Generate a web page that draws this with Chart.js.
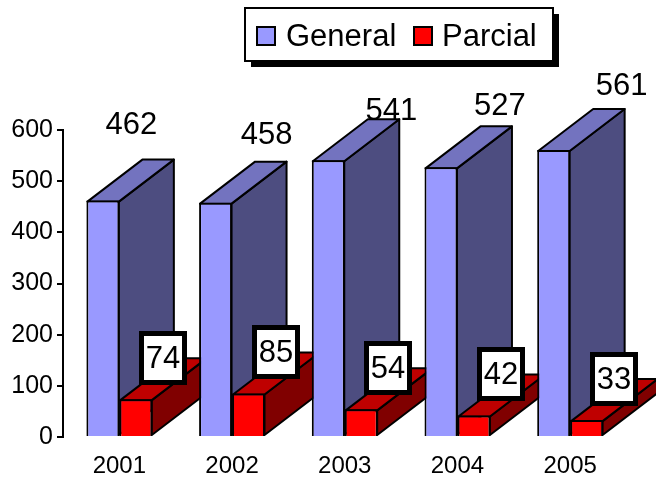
<!DOCTYPE html>
<html lang="en">
<head>
    <meta charset="UTF-8">
    <title>General / Parcial</title>
    <script src="https://cdn.jsdelivr.net/npm/chart.js"></script>
    <style>
        body { margin: 0; background: #fff; }
        canvas { display: block; }
    </style>
</head>
<body>
<canvas id="chart" width="656" height="478"></canvas>

<script>
    const years = ['2001', '2002', '2003', '2004', '2005'];
    const generalValues = [462, 458, 541, 527, 561];
    const parcialValues = [74, 85, 54, 42, 33];
    const yTicks = [0, 100, 200, 300, 400, 500, 600];

    // hand placed labels in the original, offset from the bar's top centre
    const generalLabelDx = [28.5, 51, 63, 59, 68];
    const generalLabelDy = [-75, -67, -49, -61, -64];

    const FONT = '"Liberation Sans", Arial, sans-serif';
    const DEPTH_X = 55;
    const DEPTH_Y = -42;

    function poly(ctx, pts, fill) {
        ctx.beginPath();
        pts.forEach((p, i) => i ? ctx.lineTo(p[0], p[1]) : ctx.moveTo(p[0], p[1]));
        ctx.closePath();
        ctx.fillStyle = fill;
        ctx.fill();
        ctx.stroke();
    }

    // side and top faces of the bars, the fronts are the normal Chart.js bars
    const bars3d = {
        id: 'bars3d',
        beforeDatasetsDraw(chart) {
            const ctx = chart.ctx;
            ctx.save();
            ctx.strokeStyle = '#000';
            ctx.lineWidth = 2;
            ctx.lineJoin = 'round';
            chart.data.datasets.forEach((ds, i) => {
                chart.getDatasetMeta(i).data.forEach(bar => {
                    const l = bar.x - bar.width / 2 + 1;
                    const r = bar.x + bar.width / 2 - 0.5;
                    const t = bar.y + 1;
                    const b = bar.base - 1;
                    poly(ctx, [[r, t], [r + DEPTH_X, t + DEPTH_Y], [r + DEPTH_X, b + DEPTH_Y], [r, b]], ds.sideColor);
                    poly(ctx, [[l, t], [l + DEPTH_X, t + DEPTH_Y], [r + DEPTH_X, t + DEPTH_Y], [r, t]], ds.topColor);
                });
            });
            ctx.restore();
        },
        afterDatasetsDraw(chart) {
            const ctx = chart.ctx;
            ctx.save();
            ctx.font = '31px ' + FONT;
            ctx.textAlign = 'center';
            ctx.textBaseline = 'middle';
            chart.getDatasetMeta(0).data.forEach((bar, i) => {
                ctx.fillStyle = '#000';
                ctx.fillText(generalValues[i], bar.x + generalLabelDx[i], bar.y + generalLabelDy[i]);
            });
            chart.getDatasetMeta(1).data.forEach((bar, i) => {
                const cx = Math.round(bar.x + 27);
                const cy = Math.round(bar.y - 41.5);
                ctx.fillStyle = '#000';
                ctx.fillRect(cx - 24, cy - 27, 48, 54);
                ctx.fillStyle = '#fff';
                ctx.fillRect(cx - 19, cy - 22, 38, 44);
                ctx.fillStyle = '#000';
                ctx.fillText(parcialValues[i], cx, cy + 1);
            });
            ctx.restore();
        },
        afterDraw(chart) {
            // framed legend with the hard drop shadow
            const ctx = chart.ctx;
            ctx.save();
            ctx.fillStyle = '#000';
            ctx.fillRect(251, 14, 308, 53);
            ctx.fillStyle = '#fff';
            ctx.strokeStyle = '#000';
            ctx.lineWidth = 2;
            ctx.fillRect(245, 8, 308, 53);
            ctx.strokeRect(245, 8, 308, 53);
            ctx.font = '31px ' + FONT;
            ctx.textBaseline = 'middle';
            [[257, 286], [414, 442]].forEach((pos, i) => {
                const ds = chart.data.datasets[i];
                ctx.fillStyle = ds.backgroundColor;
                ctx.fillRect(pos[0], 27, 18, 18);
                ctx.strokeRect(pos[0], 27, 18, 18);
                ctx.fillStyle = '#000';
                ctx.fillText(ds.label, pos[1], 37.5);
            });
            ctx.restore();
        }
    };

    new Chart(document.getElementById('chart'), {
        type: 'bar',
        data: {
            labels: years,
            datasets: [
                { label: 'General', data: generalValues, backgroundColor: '#9999ff', topColor: '#7373bf', sideColor: '#4d4d80', borderColor: '#000', borderWidth: 2 },
                { label: 'Parcial', data: parcialValues, backgroundColor: '#ff0000', topColor: '#bf0000', sideColor: '#800000', borderColor: '#000', borderWidth: 2 }
            ]
        },
        options: {
            responsive: false,
            animation: false,
            layout: { padding: { top: 130, right: 29.5, left: 0, bottom: 0 } },
            plugins: { legend: { display: false }, tooltip: { enabled: false } },
            datasets: { bar: { categoryPercentage: 0.585, barPercentage: 1 } },
            scales: {
                x: {
                    grid: { display: false },
                    border: { display: false },
                    ticks: { color: '#000', font: { family: FONT, size: 24 }, padding: 7, maxRotation: 0 },
                    afterFit: scale => { scale.height = 41; }
                },
                y: {
                    min: 0,
                    max: 600,
                    afterBuildTicks: scale => { scale.ticks = yTicks.map(v => ({ value: v })); },
                    grid: { drawOnChartArea: false, color: '#000', lineWidth: 2, tickLength: 6 },
                    border: { color: '#000', width: 2 },
                    ticks: { color: '#000', font: { family: FONT, size: 25 }, padding: 4 },
                    afterFit: scale => { scale.width = 63; }
                }
            }
        },
        plugins: [bars3d]
    });
</script>
</body>
</html>
